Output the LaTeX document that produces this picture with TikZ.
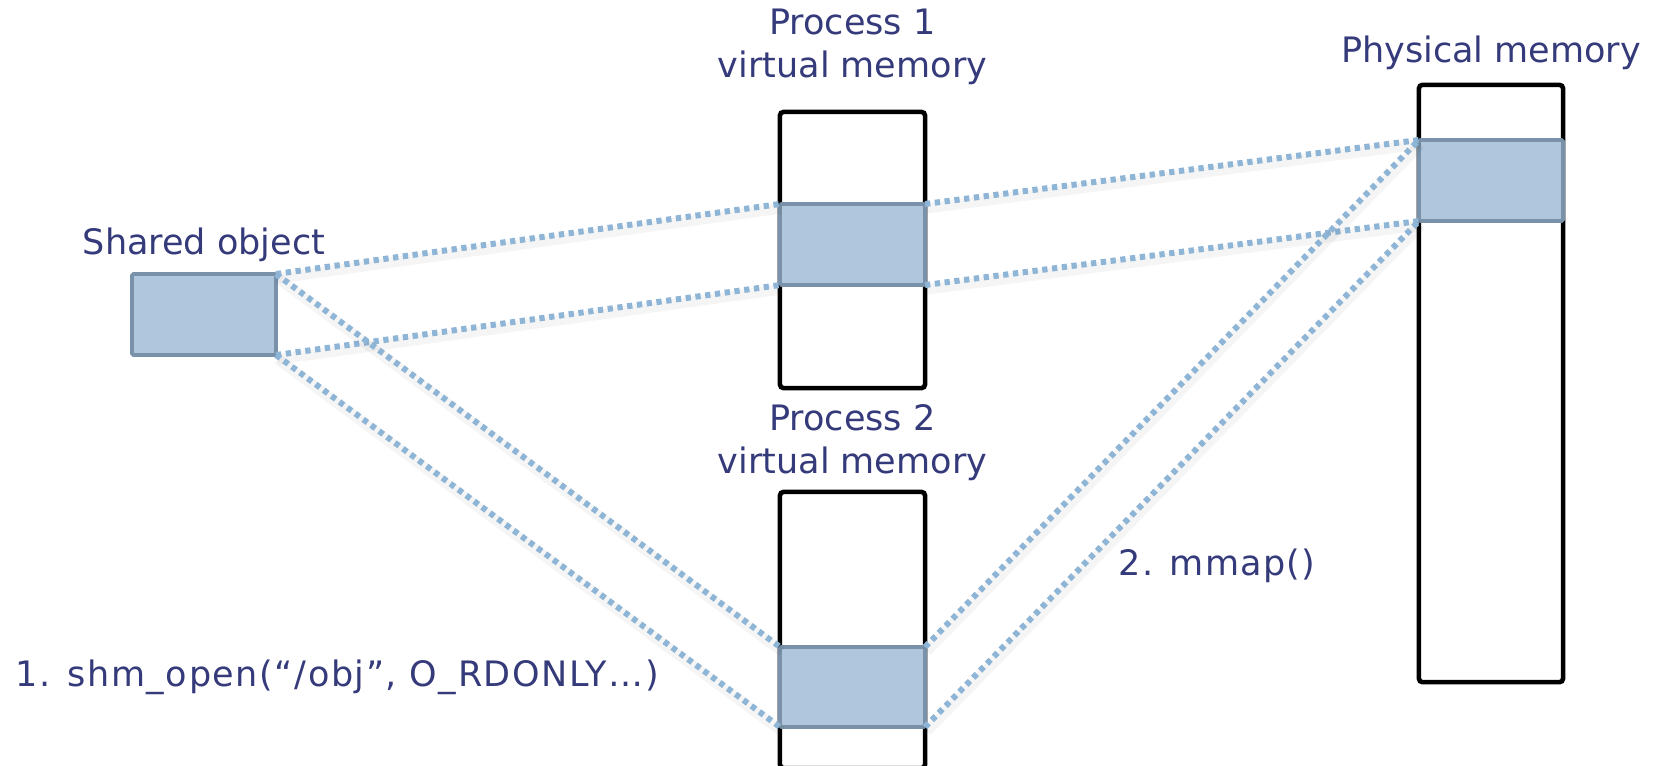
\documentclass[tikz,border=0pt]{standalone}
\usepackage{fontspec}
\setmainfont{DejaVu Sans}
\usepackage{tikz}
\usetikzlibrary{positioning,calc}
\usepackage{xcolor}
\definecolor{labelnavy}{RGB}{52, 58, 122}
\definecolor{segfill}  {RGB}{175,198,220}
\definecolor{segedge}  {RGB}{121,146,169}
\definecolor{linkblue} {RGB}{143,181,214}

\begin{document}
\begin{tikzpicture}[
  x=0.01cm,y=-0.01cm,
  every node/.style={font=\fontsize{9.96}{12}\selectfont},
  col/.style={draw=black,line width=1.3pt,fill=white,rounded corners=1pt,
              inner sep=0pt,outer sep=0pt,minimum width=1.45cm},
  seg/.style={draw=segedge,line width=1.1pt,fill=segfill,rounded corners=0.5pt,
              inner sep=0pt,outer sep=0pt,minimum width=1.45cm,minimum height=0.81cm},
  lbl/.style={text=labelnavy,align=center,inner sep=0pt},
  link/.style={draw=linkblue,line width=1.7pt,dash pattern=on 1.5pt off 1.3pt,
               preaction={draw=black,solid,opacity=0.04,line width=3pt,
                          transform canvas={xshift=0.5pt,yshift=-1.2pt}}},
]
\useasboundingbox (0,0) rectangle (1656,766);
\clip (0,0) rectangle (1656,766);

%% Shared object
\node[seg,minimum width=1.44cm] (so) at (204,314.5) {};
\node[lbl,anchor=base] (solbl) at (204,254) {Shared object};

%% Process 1 virtual memory
\node[col,minimum height=2.76cm] (p1) at (852.5,250) {};
\node[seg] (p1seg) at (852.5,244.5) {};
\node[lbl,anchor=south] (p1lbl) at (852.5,85) {Process 1\\virtual memory};

%% Process 2 virtual memory (runs off the bottom)
\node[col,minimum height=2.76cm] (p2) at (852.5,630) {};
\node[seg,minimum height=0.80cm] (p2seg) at (852.5,687) {};
\node[lbl,anchor=south] (p2lbl) at (852.5,481) {Process 2\\virtual memory};

%% Physical memory
\node[col,minimum width=1.44cm,minimum height=5.97cm] (pm) at (1491,383.5) {};
\node[seg,minimum width=1.44cm] (pmseg) at (1491,180.5) {};
\node[lbl,anchor=base] (pmlbl) at (1491,62) {Physical memory};

%% Mappings
\draw[link] (so.north east) -- (p1seg.north west);
\draw[link] (so.south east) -- (p1seg.south west);
\draw[link] (so.north east) -- (p2seg.north west);
\draw[link] (so.south east) -- (p2seg.south west);
\draw[link] (p1seg.north east) -- (pmseg.north west);
\draw[link] (p1seg.south east) -- (pmseg.south west);
\draw[link] (p2seg.north east) -- (pmseg.north west);
\draw[link] (p2seg.south east) -- (pmseg.south west);

%% Steps
\node[lbl,anchor=base west] (shm) at (15,686)
  {\addfontfeature{LetterSpace=4.5}1. shm\_open(“/obj”, O\_RDONLY…)};
\node[lbl,anchor=base west] (mmap) at (1118,575)
  {\addfontfeature{LetterSpace=3.5}2. mmap()};

\end{tikzpicture}
\end{document}
